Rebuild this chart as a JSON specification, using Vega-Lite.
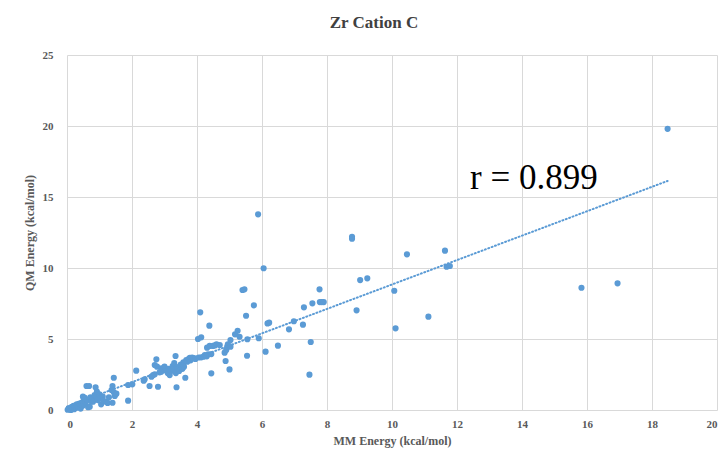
{
  "$schema": "https://vega.github.io/schema/vega-lite/v6.json",
  "autosize": {"type": "none"},
  "width": 650,
  "height": 355,
  "padding": {"left": 67, "top": 55, "right": 7, "bottom": 48},
  "background": "white",
  "title": {
    "text": "Zr Cation C",
    "anchor": "middle",
    "dx": -18,
    "offset": 17,
    "fontSize": 17,
    "fontWeight": "bold",
    "color": "#404040",
    "font": "Liberation Serif"
  },
  "config": {
    "font": "Liberation Serif",
    "view": {"stroke": null},
    "axis": {
      "domain": false,
      "ticks": false,
      "grid": true,
      "gridColor": "#d9d9d9",
      "gridWidth": 1,
      "labelFont": "Liberation Serif",
      "labelFontSize": 11,
      "labelFontWeight": "bold",
      "labelColor": "#595959",
      "titleFont": "Liberation Serif",
      "titleFontSize": 12,
      "titleFontWeight": "bold",
      "titleColor": "#595959"
    }
  },
  "datasets": {
    "points": [
      {"mm": 0.02, "qm": 0.02}, {"mm": 0.05, "qm": 0.08}, {"mm": 0.08, "qm": 0.05}, {"mm": 0.1, "qm": 0.15},
      {"mm": 0.12, "qm": 0.0}, {"mm": 0.15, "qm": 0.2}, {"mm": 0.18, "qm": 0.1}, {"mm": 0.2, "qm": 0.3},
      {"mm": 0.22, "qm": 0.05}, {"mm": 0.25, "qm": 0.25}, {"mm": 0.28, "qm": 0.15}, {"mm": 0.3, "qm": 0.4},
      {"mm": 0.32, "qm": 0.3}, {"mm": 0.35, "qm": 0.2}, {"mm": 0.38, "qm": 0.45}, {"mm": 0.4, "qm": 0.35},
      {"mm": 0.42, "qm": 0.1}, {"mm": 0.45, "qm": 0.5}, {"mm": 0.48, "qm": 0.3}, {"mm": 0.49, "qm": 0.94},
      {"mm": 0.5, "qm": 0.6}, {"mm": 0.52, "qm": 0.4}, {"mm": 0.55, "qm": 0.85}, {"mm": 0.58, "qm": 0.55},
      {"mm": 0.6, "qm": 1.69}, {"mm": 0.62, "qm": 0.7}, {"mm": 0.65, "qm": 0.2}, {"mm": 0.68, "qm": 1.69},
      {"mm": 0.7, "qm": 0.23}, {"mm": 0.72, "qm": 0.9}, {"mm": 0.75, "qm": 0.6}, {"mm": 0.78, "qm": 0.75},
      {"mm": 0.8, "qm": 0.58}, {"mm": 0.85, "qm": 1.05}, {"mm": 0.88, "qm": 1.6}, {"mm": 0.9, "qm": 0.95},
      {"mm": 0.92, "qm": 1.3}, {"mm": 0.95, "qm": 0.7}, {"mm": 1.0, "qm": 1.1}, {"mm": 1.02, "qm": 0.85},
      {"mm": 1.05, "qm": 0.4}, {"mm": 1.1, "qm": 0.94}, {"mm": 1.12, "qm": 0.65}, {"mm": 1.2, "qm": 0.58},
      {"mm": 1.25, "qm": 0.5}, {"mm": 1.29, "qm": 0.89}, {"mm": 1.37, "qm": 1.41}, {"mm": 1.4, "qm": 0.51},
      {"mm": 1.4, "qm": 1.69}, {"mm": 1.44, "qm": 1.25}, {"mm": 1.44, "qm": 2.27}, {"mm": 1.47, "qm": 0.99},
      {"mm": 1.52, "qm": 1.15}, {"mm": 1.88, "qm": 1.76}, {"mm": 1.88, "qm": 0.66}, {"mm": 2.01, "qm": 1.81},
      {"mm": 2.13, "qm": 2.77}, {"mm": 2.36, "qm": 2.06}, {"mm": 2.39, "qm": 2.16},
      {"mm": 2.54, "qm": 1.69}, {"mm": 2.6, "qm": 2.35}, {"mm": 2.65, "qm": 2.46}, {"mm": 2.7, "qm": 2.51},
      {"mm": 2.7, "qm": 3.17}, {"mm": 2.75, "qm": 3.57}, {"mm": 2.77, "qm": 3.05}, {"mm": 2.8, "qm": 1.64},
      {"mm": 2.85, "qm": 2.65}, {"mm": 2.9, "qm": 2.94}, {"mm": 2.9, "qm": 2.7}, {"mm": 2.95, "qm": 2.82},
      {"mm": 3.0, "qm": 3.05}, {"mm": 3.06, "qm": 2.77}, {"mm": 3.1, "qm": 2.6}, {"mm": 3.12, "qm": 2.9},
      {"mm": 3.16, "qm": 2.46}, {"mm": 3.2, "qm": 2.75}, {"mm": 3.25, "qm": 3.1}, {"mm": 3.28, "qm": 2.85},
      {"mm": 3.3, "qm": 3.3}, {"mm": 3.34, "qm": 3.8}, {"mm": 3.35, "qm": 2.6}, {"mm": 3.37, "qm": 1.6},
      {"mm": 3.4, "qm": 3.0}, {"mm": 3.45, "qm": 2.75}, {"mm": 3.5, "qm": 3.2}, {"mm": 3.55, "qm": 2.9},
      {"mm": 3.58, "qm": 3.35}, {"mm": 3.6, "qm": 3.05}, {"mm": 3.64, "qm": 2.27}, {"mm": 3.67, "qm": 3.52},
      {"mm": 3.7, "qm": 3.4}, {"mm": 3.75, "qm": 3.6}, {"mm": 3.78, "qm": 3.68}, {"mm": 3.8, "qm": 3.5},
      {"mm": 3.85, "qm": 3.7}, {"mm": 3.9, "qm": 3.65}, {"mm": 3.95, "qm": 3.6},
      {"mm": 4.03, "qm": 5.0}, {"mm": 4.05, "qm": 3.7}, {"mm": 4.1, "qm": 6.88}, {"mm": 4.13, "qm": 5.12},
      {"mm": 4.13, "qm": 3.71}, {"mm": 4.2, "qm": 3.75}, {"mm": 4.24, "qm": 3.87}, {"mm": 4.3, "qm": 3.78},
      {"mm": 4.31, "qm": 4.39}, {"mm": 4.34, "qm": 3.92}, {"mm": 4.38, "qm": 5.94}, {"mm": 4.39, "qm": 4.51},
      {"mm": 4.44, "qm": 3.94}, {"mm": 4.44, "qm": 2.58}, {"mm": 4.49, "qm": 4.51}, {"mm": 4.55, "qm": 4.55},
      {"mm": 4.6, "qm": 4.63}, {"mm": 4.7, "qm": 4.58}, {"mm": 4.85, "qm": 4.04}, {"mm": 4.88, "qm": 3.45},
      {"mm": 4.9, "qm": 4.23}, {"mm": 4.93, "qm": 4.46}, {"mm": 4.95, "qm": 4.63}, {"mm": 5.0, "qm": 2.86},
      {"mm": 5.03, "qm": 4.46}, {"mm": 5.03, "qm": 4.93}, {"mm": 5.17, "qm": 5.33}, {"mm": 5.25, "qm": 5.58},
      {"mm": 5.31, "qm": 5.16}, {"mm": 5.4, "qm": 8.45}, {"mm": 5.46, "qm": 8.5}, {"mm": 5.51, "qm": 6.64},
      {"mm": 5.54, "qm": 3.82}, {"mm": 5.55, "qm": 4.98}, {"mm": 5.75, "qm": 7.37}, {"mm": 5.9, "qm": 5.05},
      {"mm": 5.88, "qm": 13.78}, {"mm": 6.05, "qm": 9.98}, {"mm": 6.11, "qm": 4.11}, {"mm": 6.17, "qm": 6.1},
      {"mm": 6.22, "qm": 6.15}, {"mm": 6.49, "qm": 4.53}, {"mm": 6.83, "qm": 5.68}, {"mm": 6.98, "qm": 6.25},
      {"mm": 7.26, "qm": 6.01}, {"mm": 7.29, "qm": 7.23}, {"mm": 7.46, "qm": 2.49}, {"mm": 7.5, "qm": 4.79},
      {"mm": 7.55, "qm": 7.51}, {"mm": 7.77, "qm": 8.5}, {"mm": 7.78, "qm": 7.6}, {"mm": 7.84, "qm": 7.6},
      {"mm": 7.9, "qm": 7.6}, {"mm": 8.77, "qm": 12.2}, {"mm": 8.77, "qm": 12.06}, {"mm": 8.91, "qm": 7.02},
      {"mm": 9.02, "qm": 9.15}, {"mm": 9.24, "qm": 9.27}, {"mm": 10.07, "qm": 8.4}, {"mm": 10.11, "qm": 5.75},
      {"mm": 10.46, "qm": 10.96}, {"mm": 11.12, "qm": 6.57}, {"mm": 11.63, "qm": 11.22}, {"mm": 11.68, "qm": 10.09},
      {"mm": 11.78, "qm": 10.14}, {"mm": 15.83, "qm": 8.61}, {"mm": 16.94, "qm": 8.92}, {"mm": 18.48, "qm": 19.8}
    ],
    "trend": [
      {"mm": 0.0, "qm": 0.24},
      {"mm": 18.48, "qm": 16.13}
    ],
    "note": [
      {"mm": 12.4, "qm": 15.53, "label": "r = 0.899"}
    ]
  },
  "layer": [
    {
      "data": {"name": "points"},
      "mark": {"type": "point", "filled": true, "size": 38, "color": "#5b9bd5", "opacity": 1},
      "encoding": {
        "x": {
          "field": "mm", "type": "quantitative",
          "scale": {"domain": [0, 20], "nice": false, "zero": true},
          "axis": {"values": [0, 2, 4, 6, 8, 10, 12, 14, 16, 18, 20], "title": "MM Energy (kcal/mol)", "labelPadding": 8, "titlePadding": 6}
        },
        "y": {
          "field": "qm", "type": "quantitative",
          "scale": {"domain": [0, 25], "nice": false},
          "axis": {"values": [0, 5, 10, 15, 20, 25], "title": "QM Energy (kcal/mol)", "labelPadding": 14, "titlePadding": 6}
        }
      }
    },
    {
      "data": {"name": "trend"},
      "mark": {"type": "line", "color": "#5b9bd5", "strokeWidth": 2, "strokeDash": [1, 2.6], "strokeCap": "round"},
      "encoding": {
        "x": {"field": "mm", "type": "quantitative"},
        "y": {"field": "qm", "type": "quantitative"}
      }
    },
    {
      "data": {"name": "note"},
      "mark": {"type": "text", "align": "left", "baseline": "alphabetic", "fontSize": 35, "font": "Liberation Serif", "color": "#000000"},
      "encoding": {
        "x": {"field": "mm", "type": "quantitative"},
        "y": {"field": "qm", "type": "quantitative"},
        "text": {"field": "label"}
      }
    }
  ]
}
